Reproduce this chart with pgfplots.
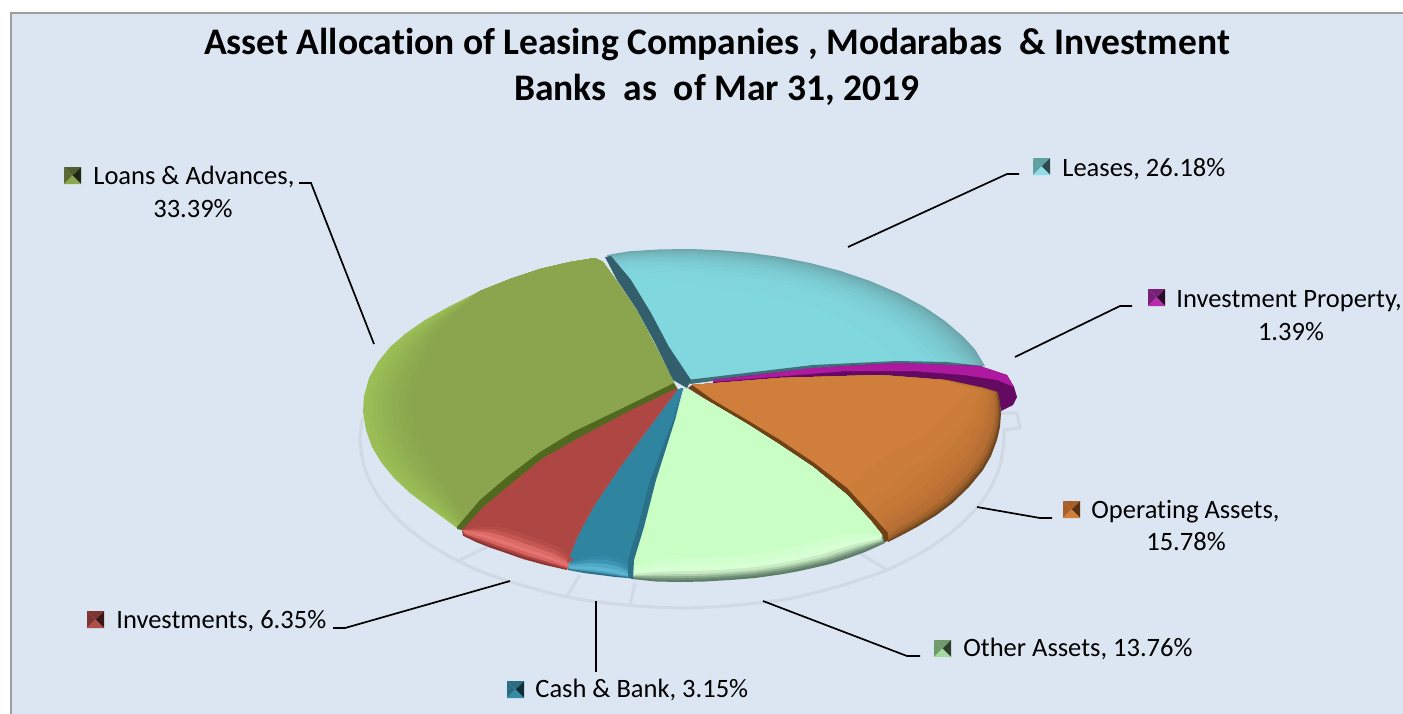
\documentclass[border=0pt]{standalone}
\usepackage{pgfplots}
\pgfplotsset{compat=1.18}
\usepackage{pgfplotstable}
\usepackage{fontspec}
\setmainfont[Ligatures=NoCommon]{Carlito}
\definecolor{bg}{HTML}{DCE6F2}
\definecolor{ring}{HTML}{D1D9E4}
\newcommand\hx[1]{\definecolor{#1}{HTML}{#1}}
\hx{6BA6AC}\hx{70B0B6}\hx{73B7BD}\hx{76BEC5}\hx{7AC7CE}\hx{7DCFD6}\hx{80D4DB}\hx{81D7DE}\hx{335F6C}\hx{3E7079}
\hx{6EABB1}\hx{71B3B9}\hx{75BBC1}\hx{78C3CA}\hx{7CCBD2}\hx{7FD2D9}
\hx{640A62}\hx{AE1A9F}\hx{6F4520}\hx{8A5727}\hx{A5642C}\hx{B56E32}\hx{BD7335}\hx{C57937}\hx{CD7D3A}\hx{D07E3B}\hx{6E4216}
\hx{B96F33}\hx{C17636}\hx{C97B39}
\hx{5D7D67}\hx{6F8F78}\hx{8DAE90}\hx{ADD0AB}\hx{C8EAC4}\hx{D8FFD4}\hx{D2FFCE}\hx{C9FFC4}
\hx{2B6E88}\hx{4A9CB8}\hx{5CB6D1}\hx{4FA8C4}\hx{3C94B2}\hx{3289A8}\hx{2F84A0}\hx{2A7088}
\hx{8A3533}\hx{A84442}\hx{D8625F}\hx{E57571}\hx{D96A65}\hx{C55650}\hx{B64C48}\hx{AE4743}
\hx{9BBF56}\hx{99BC55}\hx{97B954}\hx{95B653}\hx{93B352}\hx{91B051}\hx{8FAD50}\hx{8DAA4F}\hx{8BA74E}\hx{8AA54E}\hx{50691F}
\hx{4F5E2D}\hx{5C6B34}\hx{1F2612}\hx{8AA84F}\hx{5FA0A3}\hx{2A4A4C}\hx{8FDDE5}\hx{7A1F77}\hx{2B0A2B}\hx{B72BAA}
\hx{A8602A}\hx{5A3212}\hx{D17E3A}\hx{6F9A6C}\hx{2C3F2B}\hx{A4D99F}\hx{2A6C82}\hx{0F2E38}\hx{3389A6}\hx{7E3531}\hx{3A1715}\hx{B24E48}
% ---- slices: x y (pixel positions), and how far the rim shade reaches that point
\pgfplotstableread[header=false]{
607 255 0.6
630 251.2 0.7
660 249.4 0.8
690 249 0.9
720 250.2 1
750 252.8 1
780 257 1
810 263 1
840 270.8 1
870 281 1
900 293.8 1
925 307.4 1
945 321 1
963 336.5 1
975 349.4 1
985 366 0.6
947 362 0
897 361 0
813 365 0
687 380 0
}\tealtb
\pgfplotstableread[header=false]{
605 257
617 280
637 310
655 343
673 380
687 388
691 380
669 347
651 313
631 280
611 256
}\tealside
\pgfplotstableread[header=false]{
687 380
813 365
897 361
947 362
983 366
980 368
897 364
813 368
713 381
690 384
}\tealline
\pgfplotstableread[header=false]{
713 380
813 368
897 363
980 366
1007 375
1014 387
1017 397
1013 405
1001 411
998 395
980 388
913 378
847 378
713 386
}\purpletb
\pgfplotstableread[header=false]{
713 380
813 368
897 363
980 366
1007 375
1014 387
997 380
963 375
913 371
847 371
713 382
}\magentatb
\pgfplotstableread[header=false]{
692 385 0
780 378 0
880 375 0
947 380 0.1
985 388 0.2
998 392 0.3
1000 402 0.4
1001 413 0.5
1000 427 0.6
997 440 0.7
991 456 0.8
983 470 0.9
969 487 1
952.5 503 1
936.6 515 1
917 527 1
902 535 0.9
888 542 0.5
888 533 0
870 513 0
847 488 0
813 462 0
780 440 0
747 420 0
713 400 0
}\orangetb
\pgfplotstableread[header=false]{
688 388
713 404
747 424
780 445
813 467
847 495
870 520
882 535
882 543
888 541
888 533
870 513
847 488
813 462
780 440
747 420
713 400
692 385
}\browntb
\pgfplotstableread[header=false]{
685 388 0
713 404 0
747 424 0
780 445 0
813 467 0
847 495 0
870 520 0
882 535 0
885 543 0.5
865 552 0.9
847 558.5 1
830 564 1
813 568 1
797 571.5 1
780 574.5 1
755 578 1
730 580 1
705 581.5 1
680 582 1
656 581.5 0.9
632 579 0.5
633 560 0
643 527 0
655 480 0
675 420 0
}\lgreentb
\pgfplotstableread[header=false]{
683 388 0
673 420 0
650 480 0
640 527 0
630 560 0
628 578 0.5
615 577 0.9
600 575 1
584 573 0.9
568 570 0.5
567 562 0
577 537 0
593 507 0
620 467 0
647 430 0
677 390 0
}\bluetb
\pgfplotstableread[header=false]{
683 388
673 420
650 480
638 527
628 560
628 578
633 579
634 560
644 527
656 480
675 420
}\bluesidetb
\pgfplotstableread[header=false]{
677 388 0
627 412 0
580 437 0
543 458 0
513 482 0
483 507 0
462 530 0
463 535.7 0.5
476 542 0.9
490 547.6 1
506 553 1
523 559 1
545 565 0.9
567 570 0.5
567 562 0
577 537 0
593 507 0
620 467 0
647 430 0
677 390 0
}\redtb
\pgfplotstableread[header=false]{
674 383
627 406
573 432
540 452
507 477
480 500
457 527
457 529
462 530
483 507
513 482
543 458
580 437
627 412
677 388
}\gbandtb
\pgfplotstableread[header=false]{
674 383 0
673 381 0
656 347 0
638 313 0
618 283 0
603 262 0
595 258 0
570 262 0
540 269 0
510 279 0
480 291 0
450 306 0.3
425 320 0.5
405 334 0.7
390 347 0.9
378 362 1
369 378 1
364 396 1
363 412 1
366 430 1
372 447 1
381 462 0.95
394 478 0.9
410 493 0.8
430 508 0.6
457 528 0.3
457 527 0
480 500 0
507 477 0
540 452 0
573 432 0
627 406 0
}\greentb
% ---- the four facets of a legend key
\pgfplotstableread[header=false]{
0 0
1 0
0.5 0.5
}\ktop
\pgfplotstableread[header=false]{
1 0
1 1
0.5 0.5
}\kright
\pgfplotstableread[header=false]{
0 1
1 1
0.5 0.5
}\kbottom
\pgfplotstableread[header=false]{
0 0
0 1
0.5 0.5
}\kleft
\newcommand\lvl[3]{\addplot[fill=#3,draw=none,forget plot] table[x expr={686+(\thisrowno{0}-686)*(1-(1-#2)*\thisrowno{2})},y expr={385+(\thisrowno{1}-385)*(1-(1-#2)*\thisrowno{2})}]{#1};}
\newcommand\solid[2]{\addplot[fill=#2,draw=none,forget plot] table{#1};}
\newcommand\facet[4]{\addplot[fill=#4,draw=none,forget plot] table[x expr={#2+17*\thisrowno{0}},y expr={#3+17*\thisrowno{1}}]{#1};}
\newcommand\key[6]{\facet{\ktop}{#1}{#2}{#3}\facet{\kleft}{#1}{#2}{#4}\facet{\kright}{#1}{#2}{#5}\facet{\kbottom}{#1}{#2}{#6}}
\newcommand\leader[1]{\addplot[black,line width=0.85pt,forget plot] coordinates {#1};}
\newcommand\ringline[1]{\addplot[ring,line width=1.6pt,forget plot,line join=round] coordinates {#1};}
\newcommand\ringarc[1]{\addplot[ring,line width=1.6pt,forget plot,smooth] coordinates {#1};}
\newcommand\lab[3]{\node[anchor=base west,inner sep=0pt,font=\fontsize{13.25pt}{15pt}\selectfont] at (axis cs:#1,#2) {#3};}
\newcommand\labc[3]{\node[anchor=base,inner sep=0pt,font=\fontsize{13.25pt}{15pt}\selectfont] at (axis cs:#1,#2) {#3};}
\newcommand\ttl[2]{\node[anchor=base,inner sep=0pt,font=\fontsize{18.75pt}{22pt}\selectfont\bfseries] at (axis cs:717,#1) {#2};}
\begin{document}
\begin{tikzpicture}
\begin{axis}[width=701.5pt,height=356.5pt,scale only axis,xmin=0,xmax=1403,ymin=0,ymax=713,y dir=reverse,hide axis]
\addplot[fill=white,draw=none,forget plot] coordinates {(0,0) (1403,0) (1403,713) (0,713)} --cycle;
\addplot[fill=bg,draw=black!38,line width=1pt,forget plot] coordinates {(11,13) (1406,13) (1406,716) (11,716)} --cycle;
% shadow ring
\ringarc{(363,417) (360,440) (365,469) (379,497) (403,524) (435,548) (475,569) (521,585) (572,598) (626,605) (682,608) (738,605) (792,598) (843,585) (889,569) (929,548) (961,524) (985,497) (999,469) (1004,440) (1003,430)}
\ringline{(460,560) (487,547)}
\ringline{(567,596) (580,575)}
\ringline{(630,605) (635,583)}
\ringline{(887,570) (858,552)}
\ringline{(1003,430) (1020,428) (1017,413) (1000,413)}
% Leases
\lvl{\tealtb}{1}{6BA6AC}
\lvl{\tealtb}{0.992}{6EABB1}
\lvl{\tealtb}{0.985}{70B0B6}
\lvl{\tealtb}{0.977}{71B3B9}
\lvl{\tealtb}{0.97}{73B7BD}
\lvl{\tealtb}{0.96}{75BBC1}
\lvl{\tealtb}{0.95}{76BEC5}
\lvl{\tealtb}{0.935}{78C3CA}
\lvl{\tealtb}{0.92}{7AC7CE}
\lvl{\tealtb}{0.9}{7CCBD2}
\lvl{\tealtb}{0.88}{7DCFD6}
\lvl{\tealtb}{0.85}{7FD2D9}
\lvl{\tealtb}{0.82}{80D4DB}
\lvl{\tealtb}{0.72}{81D7DE}
\solid{\tealline}{3E7079}
% Investment Property
\solid{\purpletb}{640A62}
\solid{\magentatb}{AE1A9F}
% Operating Assets
\lvl{\orangetb}{1}{6F4520}
\lvl{\orangetb}{0.99}{8A5727}
\lvl{\orangetb}{0.98}{A5642C}
\lvl{\orangetb}{0.965}{B56E32}
\lvl{\orangetb}{0.95}{B96F33}
\lvl{\orangetb}{0.93}{BD7335}
\lvl{\orangetb}{0.91}{C17636}
\lvl{\orangetb}{0.88}{C57937}
\lvl{\orangetb}{0.84}{C97B39}
\lvl{\orangetb}{0.8}{CD7D3A}
\lvl{\orangetb}{0.7}{D07E3B}
\solid{\browntb}{6E4216}
% Other Assets
\lvl{\lgreentb}{1}{5D7D67}
\lvl{\lgreentb}{0.99}{6F8F78}
\lvl{\lgreentb}{0.98}{8DAE90}
\lvl{\lgreentb}{0.97}{ADD0AB}
\lvl{\lgreentb}{0.96}{C8EAC4}
\lvl{\lgreentb}{0.945}{D8FFD4}
\lvl{\lgreentb}{0.92}{D2FFCE}
\lvl{\lgreentb}{0.88}{C9FFC4}
% Cash & Bank
\lvl{\bluetb}{1}{2B6E88}
\lvl{\bluetb}{0.99}{4A9CB8}
\lvl{\bluetb}{0.98}{5CB6D1}
\lvl{\bluetb}{0.96}{4FA8C4}
\lvl{\bluetb}{0.94}{3C94B2}
\lvl{\bluetb}{0.92}{3289A8}
\lvl{\bluetb}{0.9}{2F84A0}
\solid{\bluesidetb}{2A7088}
% Investments
\lvl{\redtb}{1}{8A3533}
\lvl{\redtb}{0.99}{A84442}
\lvl{\redtb}{0.98}{D8625F}
\lvl{\redtb}{0.965}{E57571}
\lvl{\redtb}{0.95}{D96A65}
\lvl{\redtb}{0.93}{C55650}
\lvl{\redtb}{0.91}{B64C48}
\lvl{\redtb}{0.89}{AE4743}
% Loans & Advances
\lvl{\greentb}{1}{9BBF56}
\lvl{\greentb}{0.985}{99BC55}
\lvl{\greentb}{0.97}{97B954}
\lvl{\greentb}{0.955}{95B653}
\lvl{\greentb}{0.94}{93B352}
\lvl{\greentb}{0.925}{91B051}
\lvl{\greentb}{0.91}{8FAD50}
\lvl{\greentb}{0.89}{8DAA4F}
\lvl{\greentb}{0.87}{8BA74E}
\lvl{\greentb}{0.85}{8AA54E}
\solid{\gbandtb}{50691F}
\solid{\tealside}{335F6C}
% leader lines
\leader{(299,183) (311,183) (374,344)}
\leader{(1019,174) (1007,174) (848,247)}
\leader{(1132,306) (1120,306) (1015,357)}
\leader{(977,507) (1040,518) (1052,518)}
\leader{(763,601) (907,656) (920,656)}
\leader{(596,601) (596,672)}
\leader{(333,628) (345,628) (510,581)}
% legend keys
\key{64}{167}{4F5E2D}{5C6B34}{1F2612}{8AA84F}
\key{1033}{158}{5FA0A3}{5FA0A3}{2A4A4C}{8FDDE5}
\key{1148}{289}{7A1F77}{7A1F77}{2B0A2B}{B72BAA}
\key{1063}{501}{A8602A}{A8602A}{5A3212}{D17E3A}
\key{934}{640}{6F9A6C}{6F9A6C}{2C3F2B}{A4D99F}
\key{507}{681}{2A6C82}{2A6C82}{0F2E38}{3389A6}
\key{87}{611}{7E3531}{7E3531}{3A1715}{B24E48}
% text
\ttl{54}{Asset Allocation of Leasing Companies , Modarabas~ \& Investment}
\ttl{100}{Banks~ as~ of Mar 31, 2019}
\lab{93}{184}{Loans \& Advances,}
\labc{193}{217}{33.39\%}
\lab{1062}{176}{Leases, 26.18\%}
\lab{1176}{307}{Investment Property,}
\labc{1291}{340}{1.39\%}
\lab{1091}{518}{Operating Assets,}
\labc{1186}{550}{15.78\%}
\lab{963}{656}{Other Assets, 13.76\%}
\lab{535}{697}{Cash \& Bank, 3.15\%}
\lab{116}{628}{Investments, 6.35\%}
\end{axis}
\end{tikzpicture}
\end{document}
